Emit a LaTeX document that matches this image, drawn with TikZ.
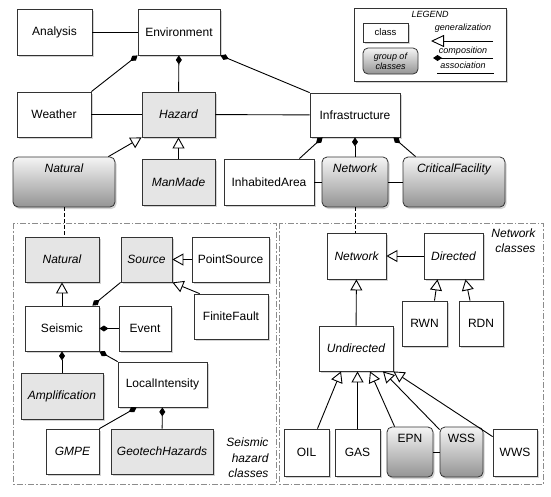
\documentclass[tikz,border=0pt]{standalone}
\usepackage{fontspec}
\setmainfont{Liberation Sans}
\usetikzlibrary{arrows.meta, shadows}

\begin{document}
\begin{tikzpicture}[x = 1pt, y = -1pt,
        font = \fontsize{12}{14}\selectfont,
        shade/.style = {drop shadow = {opacity = 0.35, shadow xshift = 1.5pt, shadow yshift = -2pt}},
        cls/.style = {draw = black!80, fill = white, line width = 0.8pt, inner sep = 3pt, shade},
        clsgray/.style = {cls, fill = black!10},
        it/.style = {font = \fontsize{12}{14}\selectfont\itshape},
        grpfill/.style = {draw = black!80, line width = 0.8pt, rounded corners = 5pt,
                          top color = black!4, middle color = black!14, bottom color = black!42},
        grp/.style = {grpfill, inner ysep = 3pt, text height = 12pt, text depth = 32pt, shade},
        gen/.style = {line width = 0.9pt, -{Triangle[open, length = 11pt, width = 12pt, fill = white]}},
        comp/.style = {line width = 0.9pt, -{Diamond[length = 9pt, width = 6pt]}},
        link/.style = {line width = 0.8pt, dash pattern = on 4pt off 2pt},
        region/.style = {draw = black!45, line width = 0.8pt, dash pattern = on 6pt off 2pt on 1.5pt off 2pt},
        legtext/.style = {font = \fontsize{9}{11}\selectfont\itshape, inner sep = 1pt}]
    \useasboundingbox (0, 0) rectangle (551, 496);
    %\draw[lightgray] (0, 0) grid[step = 50] (551, 496);

    % frames of the two class groups
    \draw[region] (13, 223) rectangle (276, 484);
    \draw[region] (279, 223) rectangle (543, 484);

    % legend
    \node[cls, minimum width = 152pt, minimum height = 73pt] (legend) at (430, 44.5) {};
    \node[legtext] (legtitle) at (430, 14) {LEGEND};
    \node[cls, shade/.style = {}, minimum width = 45pt, minimum height = 19pt, font = \fontsize{9.5}{11}\selectfont] (legclass) at (385.5, 32.5) {class};
    \node[grpfill, minimum width = 55pt, minimum height = 26pt, align = center, inner sep = 1pt,
          font = \fontsize{9}{10}\selectfont\itshape] (leggroup) at (390.5, 61) {group of\\classes};
    \node[legtext] (lgen) at (463, 28) {generalization};
    \node[legtext] (lcomp) at (463, 51) {composition};
    \node[legtext] (lassoc) at (463, 65) {association};
    \coordinate (lgenr) at (493, 41);
    \coordinate (lgenl) at (431, 41);
    \coordinate (lcompr) at (493, 58);
    \coordinate (lcompl) at (433, 58);
    \coordinate (lassocr) at (494, 73);
    \coordinate (lassocl) at (437, 73);
    \draw[line width = 0.9pt, -{Triangle[open, length = 13pt, width = 12pt, fill = white]}] (lgenr) -- (lgenl);
    \draw[comp] (lcompr) -- (lcompl);
    \draw[line width = 0.9pt] (lassocl) -- (lassocr);

    % top classes
    \node[cls, minimum width = 75pt, minimum height = 46pt] (analysis) at (54.5, 32) {Analysis};
    \node[cls, minimum width = 82pt, minimum height = 46pt] (env) at (179, 32) {Environment};
    \node[cls, minimum width = 74pt, minimum height = 45pt] (weather) at (54, 114.5) {Weather};
    \node[clsgray, it, minimum width = 73pt, minimum height = 45pt] (hazard) at (178.5, 114.5) {Hazard};
    \node[cls, minimum width = 90pt, minimum height = 44pt] (infra) at (355, 115) {Infrastructure};
    \node[grp, it, minimum width = 102pt] (natgrp) at (64, 182) {Natural};
    \node[clsgray, it, minimum width = 73pt, minimum height = 46pt] (manmade) at (178.5, 182) {ManMade};
    \node[cls, minimum width = 90pt, minimum height = 46pt] (inhab) at (269, 182) {InhabitedArea};
    \node[grp, it, minimum width = 66pt] (netgrp) at (355, 182) {Network};
    \node[grp, it, minimum width = 102pt] (crit) at (454, 182) {CriticalFacility};

    \draw[line width = 0.9pt] (analysis) -- (env);
    \draw[comp] (weather.north east) -- (env.south west);
    \draw[comp] (hazard) -- (env);
    \draw[comp] (infra.north west) -- (env.south east);
    \draw[line width = 0.9pt] (weather) -- (hazard);
    \draw[line width = 0.9pt] (hazard) -- (infra);
    \draw[gen] ([xshift = -7pt]natgrp.north east) -- (hazard.south west);
    \draw[gen] (manmade) -- (hazard);
    \draw[comp] ([xshift = -15pt]inhab.north east) -- ([xshift = 13pt]infra.south west);
    \draw[comp] (netgrp) -- (infra);
    \draw[comp] ([xshift = 13pt]crit.north west) -- ([xshift = -7pt]infra.south east);
    \draw[line width = 0.9pt] (inhab) -- (netgrp);
    \draw[line width = 0.9pt] (netgrp) -- (crit);

    % seismic hazard classes
    \node[clsgray, it, minimum width = 74pt, minimum height = 45pt] (natc) at (62, 259.5) {Natural};
    \node[clsgray, it, minimum width = 51pt, minimum height = 45pt] (source) at (146.5, 259.5) {Source};
    \node[cls, minimum width = 77pt, minimum height = 45pt] (psrc) at (230.5, 259.5) {PointSource};
    \node[cls, minimum width = 74pt, minimum height = 45pt] (ff) at (231, 316.5) {FiniteFault};
    \node[cls, minimum width = 74pt, minimum height = 45pt] (seismic) at (62, 328.5) {Seismic};
    \node[cls, minimum width = 52pt, minimum height = 45pt] (event) at (145, 328.5) {Event};
    \node[clsgray, it, minimum width = 82pt, minimum height = 46pt] (ampl) at (62, 396) {Amplification};
    \node[cls, minimum width = 89pt, minimum height = 45pt] (li) at (162.5, 384.5) {LocalIntensity};
    \node[cls, it, minimum width = 53pt, minimum height = 45pt] (gmpe) at (72.5, 451.5) {GMPE};
    \node[clsgray, it, minimum width = 102pt, minimum height = 45pt] (geotech) at (162, 451.5) {GeotechHazards};
    \node[it, align = right, anchor = east, font = \fontsize{12}{15.5}\selectfont\itshape] (seislabel) at (272, 458) {Seismic\\hazard\\classes};

    \draw[link] (natgrp.south) -- (natgrp.south |- natc.north);
    \draw[gen] (psrc) -- (source);
    \draw[gen] ([xshift = 6pt]ff.north west) -- (source.south east);
    \draw[gen] (seismic) -- (natc);
    \draw[comp] (source.south west) -- ([xshift = -7pt]seismic.north east);
    \draw[comp] (event) -- (seismic);
    \draw[comp] (ampl) -- (seismic);
    \draw[comp] (li.north west) -- (seismic.south east);
    \draw[comp] (gmpe.north east) -- ([xshift = 19pt]li.south west);
    \draw[comp] (geotech) -- (li);

    % network classes
    \node[cls, it, minimum width = 59pt, minimum height = 46pt] (netc) at (356.5, 256) {Network};
    \node[cls, it, minimum width = 59pt, minimum height = 46pt] (directed) at (453.5, 256) {Directed};
    \node[cls, minimum width = 45pt, minimum height = 45pt] (rwn) at (424.5, 323.5) {RWN};
    \node[cls, minimum width = 44pt, minimum height = 45pt] (rdn) at (481, 323.5) {RDN};
    \node[cls, it, minimum width = 74pt, minimum height = 45pt] (undir) at (356, 348.5) {Undirected};
    \node[cls, minimum width = 45pt, minimum height = 47pt] (oil) at (306.5, 452.5) {OIL};
    \node[cls, minimum width = 45pt, minimum height = 47pt] (gas) at (357.5, 452.5) {GAS};
    \node[grp, minimum width = 46pt] (epn) at (410, 452) {EPN};
    \node[grp, minimum width = 43pt] (wss) at (461.5, 452) {WSS};
    \node[cls, minimum width = 44pt, minimum height = 47pt] (wws) at (515, 452.5) {WWS};
    \node[it, align = right, anchor = north east, font = \fontsize{12}{15}\selectfont\itshape] (netlabel) at (539, 225) {Network\\classes};

    \draw[link] (netgrp.south) -- (netgrp.south |- netc.north);
    \draw[gen] (directed) -- (netc);
    \draw[gen] ([xshift = 10pt]rwn.north) -- ([xshift = -16pt]directed.south);
    \draw[gen] ([xshift = -11pt]rdn.north) -- ([xshift = 12pt]directed.south);
    \draw[gen] (undir) -- (netc);
    \draw[gen] ([xshift = 11pt]oil.north) -- ([xshift = -15pt]undir.south);
    \draw[gen] (gas.north) -- (gas.north |- undir.south);
    \draw[gen] ([xshift = 8pt]epn.north west) -- ([xshift = 14pt]undir.south);
    \draw[gen] ([yshift = -3pt]wss.north west) -- ([xshift = 27pt]undir.south);
    \draw[gen] ([yshift = -8pt]wws.north west) -- (undir.south east);
    \draw[line width = 0.9pt] (epn) -- (wss);
\end{tikzpicture}
\end{document}
